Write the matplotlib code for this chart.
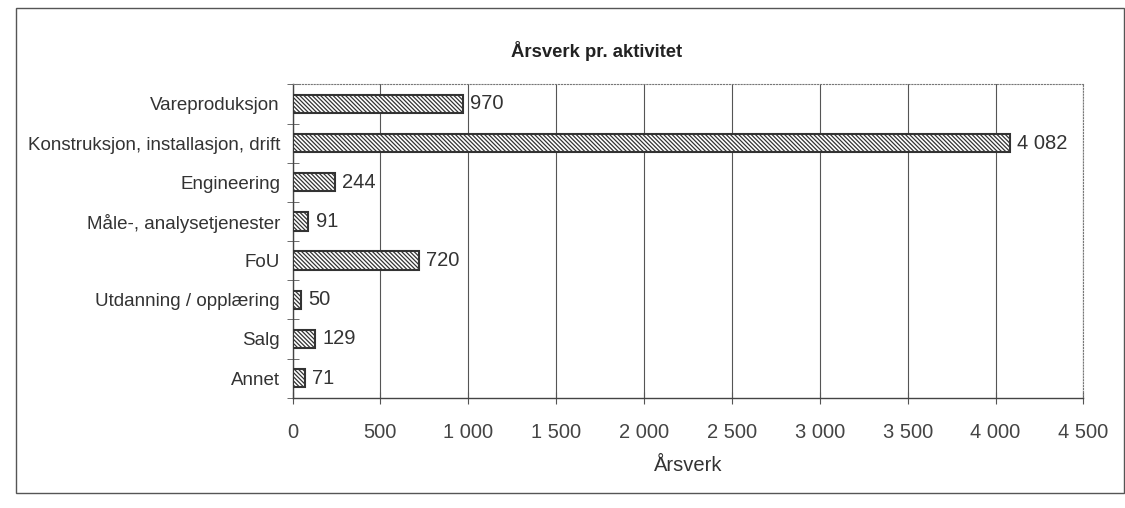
import matplotlib.pyplot as plt
from matplotlib.patches import Rectangle
import numpy as np

plt.rcParams['font.family'] = ['Liberation Sans', 'DejaVu Sans']
plt.rcParams['hatch.linewidth'] = 0.9
plt.rcParams['hatch.color'] = '#333333'

categories = ['Vareproduksjon', 'Konstruksjon, installasjon, drift', 'Engineering',
              'Måle-, analysetjenester', 'FoU', 'Utdanning / opplæring', 'Salg', 'Annet']
values = [970, 4082, 244, 91, 720, 50, 129, 71]
xticks = [0, 500, 1000, 1500, 2000, 2500, 3000, 3500, 4000, 4500]


def fmt(v):
    return f'{v:,}'.replace(',', ' ')


fig = plt.figure(figsize=(11.25, 5.08), dpi=100)
ax = fig.add_axes([0.26, 0.217, 0.703, 0.617])

y = np.arange(len(categories))
ax.barh(y, values, height=0.47, color='white', edgecolor='#333333',
        hatch='\\' * 8, linewidth=1.5, zorder=3)
for yi, v in zip(y, values):
    ax.text(v + 40, yi, fmt(v), va='center', ha='left', fontsize=14.5, color='#333333')

ax.set_ylim(len(categories) - 0.5, -0.5)
ax.set_xlim(0, 4500)
ax.set_yticks(y)
ax.set_yticklabels(categories, fontsize=13.5, color='#333333')
ax.set_yticks(np.arange(len(categories) + 1) - 0.5, minor=True)
ax.tick_params(axis='y', which='major', length=0, pad=9)
ax.tick_params(axis='y', which='minor', length=8, direction='inout', color='#555555')
ax.set_xticks(xticks)
ax.set_xticklabels([fmt(t) for t in xticks], fontsize=14.5, color='#444444')
ax.tick_params(axis='x', length=8, direction='inout', pad=14, color='#555555')
ax.grid(axis='x', color='#555555', linewidth=0.8, zorder=0)
ax.set_axisbelow(True)

for side in ['top', 'right']:
    ax.spines[side].set_linestyle(':')
    ax.spines[side].set_color('#777777')
for side in ['left', 'bottom']:
    ax.spines[side].set_color('#444444')
    ax.spines[side].set_linewidth(1.0)

ax.set_xlabel('Årsverk', fontsize=14.5, color='#333333', labelpad=10)
fig.text(0.53, 0.9, 'Årsverk pr. aktivitet', fontsize=13.3, fontweight='bold',
         ha='center', va='center', color='#222222')

fig.patches.append(Rectangle((0.014, 0.03), 0.985, 0.955, transform=fig.transFigure,
                             fill=False, edgecolor='#555555', linewidth=1.0))

fig.savefig('out.png', dpi=100)
